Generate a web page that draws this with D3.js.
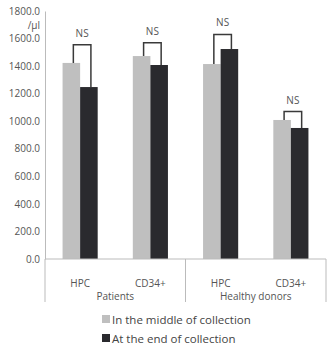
<!DOCTYPE html>
<html>
<head>
<meta charset="utf-8">
<script src="https://cdn.jsdelivr.net/npm/d3@7"></script>
<style>
body{margin:0;background:#fff;}
svg text{font-family:"Open Sans",sans-serif;fill:#555;}
</style>
</head>
<body>
<script>
var groups = ['Patients','Healthy donors'];
var categories = ['HPC','CD34+','HPC','CD34+'];
var middle = [1423,1473,1415,1009];
var end = [1248,1408,1524,951];
var seriesNames = ['In the middle of collection','At the end of collection'];
var yTicks = [0,200,400,600,800,1000,1200,1400,1600,1800];
var bracketTop = [1555,1570,1630,1070];

var W = 328, H = 346;
var mLeft = 45, mRight = 326, mTop = 11, mBottom = 259;

var svg = d3.select('body').append('svg')
	.attr('width',W).attr('height',H);

var y = d3.scaleLinear().domain([0,1800]).range([mBottom,mTop]);
var x = d3.scaleBand().domain(d3.range(4)).range([mLeft,mRight]).paddingInner(0.5).paddingOuter(0.25);
var xs = d3.scaleBand().domain([0,1]).range([0,x.bandwidth()]);
var colors = ['#bfbfbf','#2a2a2e'];

// y axis
var yAxis = svg.append('g')
	.attr('transform','translate('+mLeft+',0)')
	.call(d3.axisLeft(y).tickValues(yTicks).tickSize(0).tickPadding(5).tickFormat(d3.format('.1f')));
yAxis.select('.domain').attr('stroke','#bbb');
yAxis.selectAll('text').style('font-size','10px').attr('fill','#555');
svg.append('text').attr('x',40).attr('y',29).attr('text-anchor','end')
	.style('font-size','10px').text('/µl');

// bars
var data = categories.map(function(c,i){ return {i:i, vals:[middle[i],end[i]]}; });
var g = svg.append('g');
data.forEach(function(d){
	d.vals.forEach(function(v,s){
		g.append('rect')
			.attr('x',x(d.i)+xs(s))
			.attr('y',y(v))
			.attr('width',xs.bandwidth())
			.attr('height',y(0)-y(v))
			.attr('fill',colors[s]);
	});
	// bracket
	var x1 = x(d.i)+xs(0)+xs.bandwidth()/2+2;
	var x2 = x(d.i)+xs(1)+xs.bandwidth()/2+2;
	var t = y(bracketTop[d.i]);
	g.append('path')
		.attr('d','M'+x1+','+y(d.vals[0])+'V'+t+'H'+x2+'V'+y(d.vals[1]))
		.attr('fill','none').attr('stroke','#3a3a3a').attr('stroke-width',1.5);
	g.append('text').attr('x',(x1+x2)/2).attr('y',t-8)
		.attr('text-anchor','middle').style('font-size','10px').text('NS');
});

// baseline and group separators
svg.append('line').attr('x1',mLeft).attr('x2',mRight).attr('y1',y(0)).attr('y2',y(0)).attr('stroke','#bbb');
var seps = [mLeft,(x(1)+x.bandwidth()+x(2))/2,mRight];
seps.forEach(function(sx){
	svg.append('line').attr('x1',sx).attr('x2',sx).attr('y1',y(0)).attr('y2',302).attr('stroke','#bbb');
});
categories.forEach(function(c,i){
	svg.append('text').attr('x',x(i)+x.bandwidth()/2).attr('y',287)
		.attr('text-anchor','middle').style('font-size','10px').text(c);
});
groups.forEach(function(gr,j){
	svg.append('text').attr('x',(seps[j]+seps[j+1])/2).attr('y',300)
		.attr('text-anchor','middle').style('font-size','10px').text(gr);
});

// legend
seriesNames.forEach(function(n,s){
	var ly = 319+s*19;
	svg.append('rect').attr('x',102).attr('y',ly-4).attr('width',8).attr('height',8).attr('fill',colors[s]);
	svg.append('text').attr('x',112).attr('y',ly+4.5).style('font-size',"11.5px").style('fill','#444').text(n);
});
</script>
</body>
</html>
